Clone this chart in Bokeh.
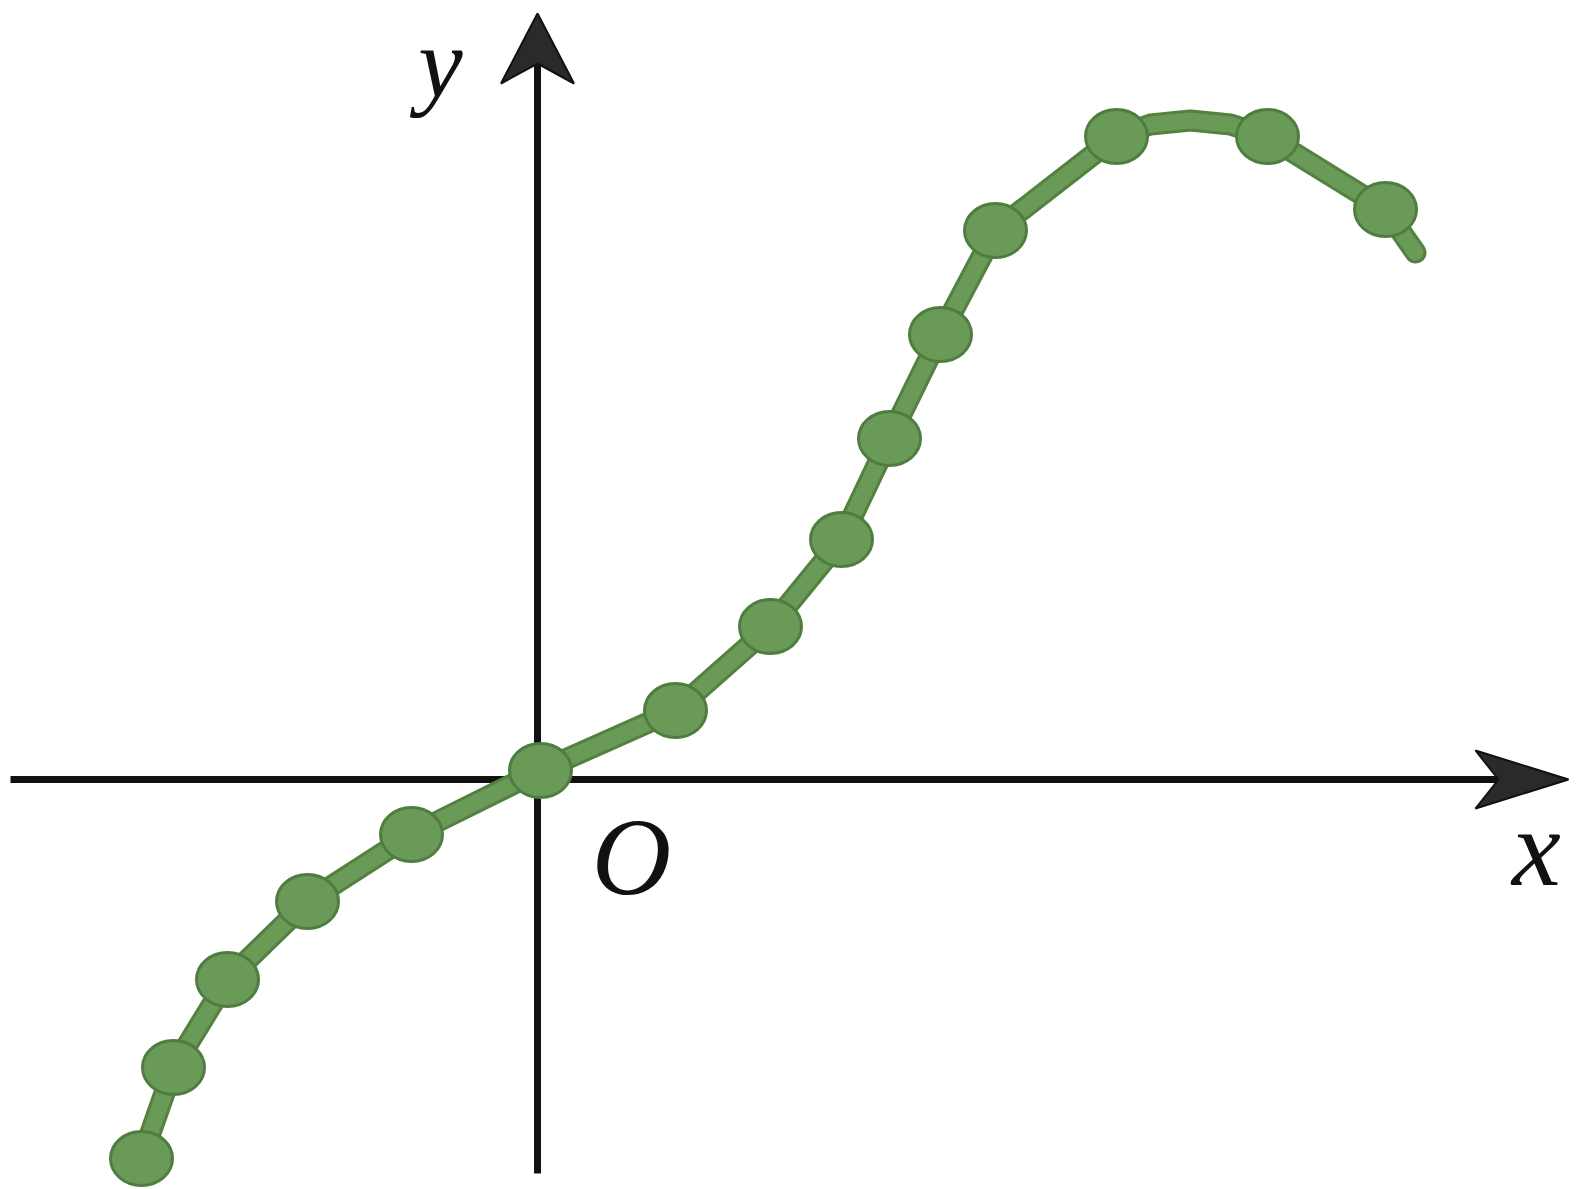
from bokeh.plotting import figure
from bokeh.models import Range1d
from bokeh.core.properties import value
from bokeh.embed import file_html
from bokeh.resources import INLINE

# Data (units: 1 unit ~ 100 px in the reference)
pt_x = [-3.96, -3.64, -3.10, -2.30, -1.26, 0.03, 1.38, 2.33, 3.04, 3.52, 4.03, 4.58, 5.79, 7.30, 8.48]
pt_y = [-3.79, -2.88, -2.00, -1.22, -0.55, 0.09, 0.69, 1.53, 2.40, 3.41, 4.45, 5.49, 6.43, 6.43, 5.70]

# curve path: the points plus the crest between the two top dots and the tail end
crest_x = [6.13, 6.53, 6.93]
crest_y = [6.55, 6.59, 6.55]
curve_x = pt_x[:13] + crest_x + pt_x[13:] + [8.78]
curve_y = pt_y[:13] + crest_y + pt_y[13:] + [5.27]

x_axis_span = [-5.27, 10.31]
y_axis_span = [-3.94, 7.66]
labels = ["y", "x", "O"]
label_x = [-0.97, 9.99, 0.94]
label_y = [7.16, -0.68, -0.77]
label_size = ["100px", "110px", "110px"]

W, H = 1579, 1189
x0 = -5.37
y1 = 7.79
p = figure(width=W, height=H, output_backend="svg", toolbar_location=None,
           x_range=Range1d(x0, x0 + W / 100), y_range=Range1d(y1 - H / 100, y1),
           min_border=0, min_border_left=0, min_border_right=0,
           min_border_top=0, min_border_bottom=0)
p.axis.visible = False
p.grid.visible = False
p.outline_line_color = None
p.background_fill_color = "white"
p.border_fill_color = "white"

ax_col = "#111111"
# x axis
xa0, xa1 = x_axis_span
p.line([xa0, xa1 - 0.70], [0, 0], line_width=7, line_color=ax_col)
p.patch([xa1, xa1 - 0.93, xa1 - 0.70, xa1 - 0.93], [0, 0.29, 0, -0.29],
        fill_color="#2a2a2a", line_color=ax_col, line_width=2)
# y axis
ya0, ya1 = y_axis_span
p.line([0, 0], [ya0, ya1 - 0.50], line_width=7, line_color=ax_col)
p.patch([0, 0.365, 0, -0.365], [ya1, ya1 - 0.70, ya1 - 0.50, ya1 - 0.70],
        fill_color="#2a2a2a", line_color=ax_col, line_width=2)

# curve
p.line(curve_x, curve_y, line_width=22, line_color="#54813f",
       line_join="round", line_cap="round")
p.line(curve_x, curve_y, line_width=16, line_color="#6a9a58",
       line_join="round", line_cap="round")
p.ellipse(pt_x, pt_y, width=0.62, height=0.54, fill_color="#6a9a58",
          line_color="#4f7d40", line_width=3)

# labels
for lx, ly, lt, ls in zip(label_x, label_y, labels, label_size):
    p.text([lx], [ly], text=[lt], text_font=value("Liberation Serif"),
           text_font_style="italic", text_font_size=ls, text_color="#111111",
           text_align="center", text_baseline="alphabetic")

open("out.html", "w").write(file_html(p, INLINE))
